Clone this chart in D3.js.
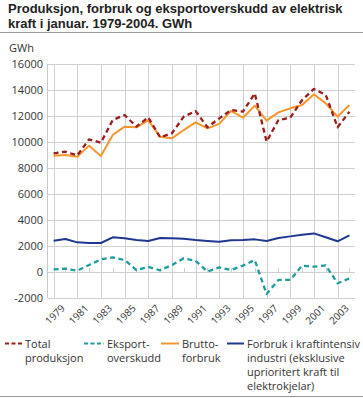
<!DOCTYPE html>
<html>
<head>
<meta charset="utf-8">
<script src="https://cdn.jsdelivr.net/npm/d3@7"></script>
<style>
  body { margin: 0; background: #fff; }
  svg { display: block; font-family: "Open Sans", sans-serif; }
</style>
</head>
<body>
<script>
const width  = 363
const height = 398

// data (GWh, January)
const years = d3.range(1979, 2005)
const totalProd = [9130, 9250, 8970, 10200, 9950, 11690, 12080, 11180, 11900, 10360, 10670, 11950, 12380,
                   11130, 11820, 12460, 12330, 13740, 10030, 11690, 11870, 13230, 14080, 13620, 11130, 12330]
const eksport   = [200, 260, 100, 540, 970, 1130, 920, 150, 390, 130, 540, 1050, 860,
                   30, 360, 150, 490, 920, -1690, -610, -610, 490, 410, 510, -870, -490]
const brutto    = [8950, 9000, 8870, 9720, 8920, 10540, 11180, 11130, 11670, 10410, 10280, 10920, 11510,
                   11050, 11390, 12390, 11870, 12800, 11640, 12280, 12590, 12850, 13670, 12970, 11950, 12840]
const industri  = [2410, 2540, 2280, 2230, 2230, 2670, 2590, 2460, 2390, 2620, 2590, 2560, 2460,
                   2390, 2330, 2440, 2460, 2510, 2390, 2620, 2740, 2870, 2970, 2670, 2360, 2820]
const yTicks = [-2000, 0, 2000, 4000, 6000, 8000, 10000, 12000, 14000, 16000]
const xLabels = d3.range(1979, 2004, 2)
const titleLines = ["Produksjon, forbruk og eksportoverskudd av elektrisk", "kraft i januar. 1979-2004. GWh"]

const series = [
  {name: ["Total", "produksjon"], values: totalProd, color: "#9c1c1c", dash: "5,3.5"},
  {name: ["Eksport-", "overskudd"], values: eksport, color: "#1c9e9c", dash: "5,3.5"},
  {name: ["Brutto-", "forbruk"], values: brutto, color: "#f7962c", dash: null},
  {name: ["Forbruk i kraftintensiv", "industri (eksklusive", "uprioritert kraft til", "elektrokjelar)"], values: industri, color: "#1f3793", dash: null}
]

const margin = {top: 64, right: 8, bottom: 100, left: 48}

const x = d3.scaleLinear()
  .domain([1978.53, 2004.47])
  .range([margin.left, width - margin.right])

const y = d3.scaleLinear()
  .domain([-2000, 16000])
  .range([height - margin.bottom, margin.top])

const svg = d3.select("body").append("svg")
  .attr("width", width)
  .attr("height", height)
  .attr("viewBox", [0, 0, width, height])

// title, two separate lines (a compact font so the lines don't collide)
svg.append("g")
  .attr("font-family", "'Liberation Sans', Arial, sans-serif")
  .attr("font-size", 13).attr("font-weight", "bold").attr("fill", "#222")
  .selectAll("text")
  .data(titleLines)
  .join("text")
    .attr("x", 8)
    .attr("y", (d, i) => 13 + i * 14.7)
    .text(d => d)

svg.append("line")
  .attr("x1", 0).attr("x2", width)
  .attr("y1", 32.5).attr("y2", 32.5)
  .attr("stroke", "#999")

svg.append("line")
  .attr("x1", 0).attr("x2", width)
  .attr("y1", 396.5).attr("y2", 396.5)
  .attr("stroke", "#999")

svg.append("text")
  .attr("x", 9).attr("y", 52)
  .attr("font-size", 11).attr("fill", "#333")
  .text("GWh")

// grid
svg.append("g")
  .attr("stroke", "#d0d0d0")
  .selectAll("line")
  .data(yTicks)
  .join("line")
    .attr("x1", margin.left).attr("x2", width - margin.right)
    .attr("y1", d => Math.round(y(d)) + 0.5)
    .attr("y2", d => Math.round(y(d)) + 0.5)

svg.append("g")
  .attr("stroke", "#d0d0d0")
  .selectAll("line")
  .data(xLabels)
  .join("line")
    .attr("x1", d => Math.round(x(d)) + 0.5)
    .attr("x2", d => Math.round(x(d)) + 0.5)
    .attr("y1", margin.top).attr("y2", height - margin.bottom)

svg.append("line")
  .attr("x1", margin.left - 0.5).attr("x2", margin.left - 0.5)
  .attr("y1", margin.top).attr("y2", height - margin.bottom)
  .attr("stroke", "#c8c8c8")

// small ticks on the zero line for the even years
svg.append("g")
  .attr("stroke", "#d0d0d0")
  .selectAll("line")
  .data(years.filter(d => d % 2 == 0))
  .join("line")
    .attr("x1", d => Math.round(x(d)) + 0.5)
    .attr("x2", d => Math.round(x(d)) + 0.5)
    .attr("y1", y(0) - 4).attr("y2", y(0))

// y axis labels
svg.append("g")
  .attr("font-size", 11).attr("fill", "#333").attr("text-anchor", "end")
  .selectAll("text")
  .data(yTicks)
  .join("text")
    .attr("x", 43)
    .attr("y", d => y(d))
    .attr("dy", "0.35em")
    .text(d => d < 0 ? "-" + Math.abs(d) : d)

// x axis labels
svg.append("g")
  .attr("font-size", 10).attr("fill", "#333").attr("text-anchor", "end")
  .selectAll("text")
  .data(xLabels)
  .join("text")
    .attr("transform", d => `translate(${x(d) + 7},${height - margin.bottom + 6}) rotate(-45)`)
    .attr("dy", "0.7em")
    .text(d => d)

// lines
const line = d3.line()
  .x((d, i) => x(years[i]))
  .y(d => y(d))

svg.append("g")
  .attr("fill", "none")
  .attr("stroke-linejoin", "round")
.selectAll("path")
.data(series.slice().reverse())
.join("path")
  .attr("stroke", d => d.color)
  .attr("stroke-dasharray", d => d.dash)
  .attr("stroke-width", d => d.dash ? 2.3 : 2)
  .attr("d", d => line(d.values))

// legend
const legendX = [[5, 25], [84, 107], [161, 182], [227, 247]]
const legend = svg.append("g")
  .selectAll("g")
  .data(series)
  .join("g")

legend.append("line")
  .attr("x1", (d, i) => legendX[i][0])
  .attr("x2", (d, i) => legendX[i][1] - 3)
  .attr("y1", 343.5).attr("y2", 343.5)
  .attr("stroke", d => d.color)
  .attr("stroke-width", 2)
  .attr("stroke-dasharray", d => d.dash ? "4,2.5" : null)

legend.append("text")
  .attr("font-size", 11).attr("fill", "#333")
  .attr("y", 347.5)
  .selectAll("tspan")
  .data((d, i) => d.name.map(t => ({t, x: legendX[i][1]})))
  .join("tspan")
    .attr("x", d => d.x)
    .attr("dy", (d, i) => i ? 14 : 0)
    .text(d => d.t)
</script>
</body>
</html>
